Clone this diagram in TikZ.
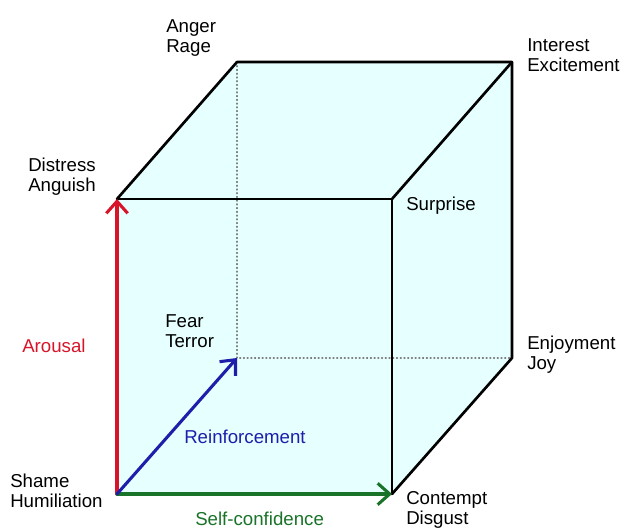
\documentclass[tikz,border=0pt]{standalone}
\usepackage{fontspec}
\setmainfont{Liberation Sans}
\usetikzlibrary{arrows.meta}

\definecolor{cubefill}{RGB}{230,255,255}
\definecolor{arousalred}{RGB}{215,20,40}
\definecolor{reinfblue}{RGB}{30,30,170}
\definecolor{confgreen}{RGB}{25,115,40}

\tikzset{
    lbl/.style={anchor=north west, inner sep=0pt, align=left},
    edge/.style={black, line width=2pt},
    hidden/.style={gray, line width=0.8pt, dotted},
    axisarrow/.style={line width=2.3pt, -{Straight Barb[length=9pt, width=16pt]}}
}

\begin{document}
\begin{tikzpicture}[x=0.75pt, y=-0.75pt, font=\fontsize{14}{15}\selectfont, line cap=round, line join=round]

            \useasboundingbox (0,0) rectangle (622,531);

            % ==========================================
            % 1. Vertici del cubo
            % ==========================================
            \coordinate (shame)     at (117,494);
            \coordinate (distress)  at (117,199);
            \coordinate (surprise)  at (392,199);
            \coordinate (contempt)  at (392,494);
            \coordinate (fear)      at (237,358);
            \coordinate (anger)     at (237,62);
            \coordinate (interest)  at (512,62);
            \coordinate (enjoyment) at (512,358);

            % ==========================================
            % 2. Riempimento e spigoli nascosti
            % ==========================================
            \fill[cubefill] (shame) -- (distress) -- (anger) -- (interest)
                -- (enjoyment) -- (contempt) -- cycle;
            \draw[hidden] (anger) -- (fear) -- (enjoyment);

            % ==========================================
            % 3. Spigoli visibili
            % ==========================================
            \draw[edge] (distress) -- (surprise) -- (contempt);
            \draw[edge] (distress) -- (anger) -- (interest) -- (enjoyment) -- (contempt);
            \draw[edge] (surprise) -- (interest);

            % ==========================================
            % 4. Assi colorati
            % ==========================================
            \draw[axisarrow, arousalred] (shame) -- (distress);
            \draw[axisarrow, confgreen] (shame) -- (contempt);
            \draw[axisarrow, reinfblue] (shame) -- (fear);

            % ==========================================
            % 5. Etichette
            % ==========================================
            \node[lbl] (lbl-anger)     at (166,19.5)  {Anger\\Rage};
            \node[lbl] (lbl-distress)  at (28,157.5)  {Distress\\Anguish};
            \node[lbl] (lbl-interest)  at (527,38.5)  {Interest\\Excitement};
            \node[lbl] (lbl-surprise)  at (406,196.5) {Surprise};
            \node[lbl] (lbl-enjoyment) at (527,335.5) {Enjoyment\\Joy};
            \node[lbl] (lbl-contempt)  at (406,491.5) {Contempt\\Disgust};
            \node[lbl] (lbl-shame)     at (10,473.5)  {Shame\\Humiliation};
            \node[lbl] (lbl-fear)      at (165,314.5) {Fear\\Terror};

            \node[lbl, text=arousalred] (lbl-arousal) at (22,338.5)  {Arousal};
            \node[lbl, text=reinfblue]  (lbl-reinf)   at (184,429.5) {Reinforcement};
            \node[lbl, text=confgreen]  (lbl-conf)    at (195,511.5) {Self-confidence};

        \end{tikzpicture}
\end{document}
